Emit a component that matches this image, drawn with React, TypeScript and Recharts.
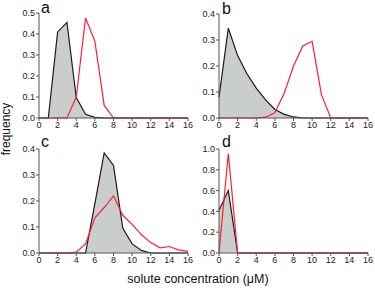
import { ComposedChart, Area, Line, XAxis, YAxis } from 'recharts';

// concentration bins (uM)
const xs = [0, 1, 2, 3, 4, 5, 6, 7, 8, 9, 10, 11, 12, 13, 14, 15, 16];
const xTicks = [0, 2, 4, 6, 8, 10, 12, 14, 16];

const aBlack = [0, 0, 0.41, 0.455, 0.097, 0.018, 0.003, 0, 0, 0, 0, 0, 0, 0, 0, 0, 0];
const aRed = [0, 0, 0, 0, 0.1, 0.476, 0.365, 0.06, 0, 0, 0, 0, 0, 0, 0, 0, 0];

const bBlack = [0.08, 0.345, 0.24, 0.17, 0.115, 0.07, 0.033, 0.014, 0.004, 0, 0, 0, 0, 0, 0, 0, 0];
const bRed = [0, 0, 0, 0, 0, 0.003, 0.02, 0.095, 0.2, 0.277, 0.295, 0.09, 0, 0, 0, 0, 0];

const cBlack = [0, 0, 0, 0, 0, 0, 0.19, 0.385, 0.337, 0.095, 0.035, 0.01, 0, 0, 0, 0, 0];
const cRed = [0, 0, 0, 0, 0.003, 0.035, 0.135, 0.175, 0.22, 0.145, 0.11, 0.07, 0.04, 0.02, 0.025, 0.012, 0.006];

const dBlack = [0.41, 0.6, 0, 0, 0, 0, 0, 0, 0, 0, 0, 0, 0, 0, 0, 0, 0];
const dRed = [0, 0.955, 0, 0, 0, 0, 0, 0, 0, 0, 0, 0, 0, 0, 0, 0, 0];

const ticksSmall = [0, 0.1, 0.2, 0.3, 0.4];
const ticksA = [0, 0.1, 0.2, 0.3, 0.4, 0.5];
const ticksD = [0, 0.2, 0.4, 0.6, 0.8, 1.0];

const FONT = '"Liberation Sans", Arial, sans-serif';
const AXIS = '#555';
const RED = '#ff1f33';

function build(black: number[], red: number[]) {
    return xs.map((x, i) => ({ x, black: black[i], red: red[i] }));
}

interface PanelProps {
    black: number[];
    red: number[];
    yTicks: number[];
    left: number;
    top: number;
    width: number;
    margin: { top: number; right: number; bottom: number; left: number };
    yWidth: number;
}

function Panel({ black, red, yTicks, left, top, width, margin, yWidth }: PanelProps) {
    const tick = { fontSize: 9, fill: '#222', fontFamily: FONT };
    return (
        <div style={{ position: 'absolute', left, top }}>
            <ComposedChart width={width} height={140} data={build(black, red)} margin={margin}>
                <XAxis
                    type="number"
                    dataKey="x"
                    domain={[0, 16]}
                    ticks={xTicks}
                    interval={0}
                    tickSize={3}
                    tickMargin={1}
                    height={20}
                    stroke={AXIS}
                    tick={tick}
                />
                <YAxis
                    domain={[0, yTicks[yTicks.length - 1]]}
                    ticks={yTicks}
                    interval={0}
                    tickFormatter={(v: number) => v.toFixed(1)}
                    tickSize={3}
                    tickMargin={1}
                    width={yWidth}
                    stroke={AXIS}
                    tick={tick}
                />
                <Area
                    type="linear"
                    dataKey="black"
                    stroke="#1a1a1a"
                    strokeWidth={1.2}
                    fill="#c9cdcc"
                    fillOpacity={1}
                    isAnimationActive={false}
                />
                <Line
                    type="linear"
                    dataKey="red"
                    stroke={RED}
                    strokeWidth={1.2}
                    dot={false}
                    isAnimationActive={false}
                />
            </ComposedChart>
        </div>
    );
}

export default function App() {
    return (
        <div style={{ position: 'absolute', left: 0, top: 0, width: 375, height: 288, background: '#fff' }}>
            <Panel black={aBlack} red={aRed} yTicks={ticksA} left={0} top={0} width={197}
                margin={{ top: 13, right: 9, bottom: 2, left: 0 }} yWidth={39} />
            <Panel black={cBlack} red={cRed} yTicks={ticksSmall} left={0} top={140} width={197}
                margin={{ top: 9, right: 9, bottom: 7, left: 0 }} yWidth={39} />
            <Panel black={bBlack} red={bRed} yTicks={ticksSmall} left={185} top={0} width={190}
                margin={{ top: 14, right: 7, bottom: 2, left: 0 }} yWidth={34} />
            <Panel black={dBlack} red={dRed} yTicks={ticksD} left={185} top={140} width={190}
                margin={{ top: 9, right: 7, bottom: 7, left: 0 }} yWidth={34} />
            <svg width={375} height={288} style={{ position: 'absolute', left: 0, top: 0, pointerEvents: 'none' }}
                fontFamily={FONT} fill="#111">
                <text x={41} y={13} fontSize={16}>a</text>
                <text x={222} y={14} fontSize={16}>b</text>
                <text x={41} y={147} fontSize={16}>c</text>
                <text x={222} y={147} fontSize={16}>d</text>
                <text x={10} y={129} fontSize={12} textAnchor="middle" transform="rotate(-90 10 129)">frequency</text>
                <text x={198} y={283} fontSize={12.5} textAnchor="middle">solute concentration (μM)</text>
            </svg>
        </div>
    );
}
